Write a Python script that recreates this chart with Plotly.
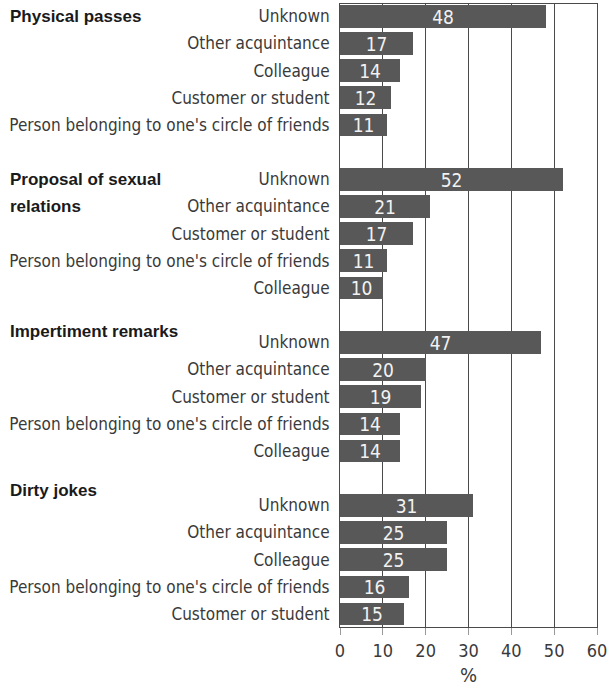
import plotly.graph_objects as go

groups = ["Physical passes", "Proposal of sexual<br>relations", "Impertiment remarks", "Dirty jokes"]
cats_physical = ["Unknown", "Other acquintance", "Colleague", "Customer or student",
                 "Person belonging to one's circle of friends"]
vals_physical = [48, 17, 14, 12, 11]
cats_proposal = ["Unknown", "Other acquintance", "Customer or student",
                 "Person belonging to one's circle of friends", "Colleague"]
vals_proposal = [52, 21, 17, 11, 10]
cats_remarks = ["Unknown", "Other acquintance", "Customer or student",
                "Person belonging to one's circle of friends", "Colleague"]
vals_remarks = [47, 20, 19, 14, 14]
cats_jokes = ["Unknown", "Other acquintance", "Colleague",
              "Person belonging to one's circle of friends", "Customer or student"]
vals_jokes = [31, 25, 25, 16, 15]
x_ticks = [0, 10, 20, 30, 40, 50, 60]
x_title = "%"

all_cats = [cats_physical, cats_proposal, cats_remarks, cats_jokes]
all_vals = [vals_physical, vals_proposal, vals_remarks, vals_jokes]

pos, labels, values = [], [], []
for gi, (cs, vs) in enumerate(zip(all_cats, all_vals)):
    for i, (c, v) in enumerate(zip(cs, vs)):
        pos.append(gi * 6 + i)
        labels.append(c)
        values.append(v)

NARROW = "DejaVu Sans Condensed, Roboto, sans-serif"

fig = go.Figure(go.Bar(
    x=values, y=pos, orientation="h",
    marker=dict(color="#585858", line=dict(width=0)),
    width=0.83,
    text=[str(v) for v in values],
    textposition="inside", insidetextanchor="middle", textangle=0,
    textfont=dict(family=NARROW, size=19, color="#f2f2f2"),
    constraintext="none",
    hoverinfo="skip",
))

# group titles (positions in slot units of the y axis)
title_slots = [[0], [6, 7], [11.62], [17.45]]
title_lines = [["Physical passes"], ["Proposal of sexual", "relations"],
               ["Impertiment remarks"], ["Dirty jokes"]]
for slots, lines in zip(title_slots, title_lines):
    for s, t in zip(slots, lines):
        fig.add_annotation(text="<b>" + t + "</b>", x=-1.29, xref="paper", xanchor="left",
                           y=s, yref="y", yanchor="middle", showarrow=False,
                           font=dict(family="Liberation Sans, Arial, sans-serif", size=17, color="#1a1a1a"))

fig.update_layout(
    width=608, height=692,
    margin=dict(l=340, r=11, t=4, b=65, autoexpand=False),
    paper_bgcolor="white", plot_bgcolor="white",
    showlegend=False,
    bargap=0,
)
fig.update_xaxes(
    range=[0, 60], tickvals=x_ticks, ticktext=[str(t) for t in x_ticks],
    showgrid=True, gridcolor="#4a4a4a", gridwidth=1,
    zeroline=False, showline=True, linecolor="#4a4a4a", linewidth=1, mirror=True,
    ticks="outside", ticklen=7, tickcolor="#999999",
    tickfont=dict(family=NARROW, size=18, color="#3a3a3a"),
    ticklabeloverflow="allow",
    title=dict(text=x_title, font=dict(family=NARROW, size=20, color="#3a3a3a"), standoff=8),
    automargin=False,
)
fig.update_yaxes(
    range=[22.48, -0.45], tickvals=pos, ticktext=labels,
    showgrid=False, zeroline=False, showline=True, linecolor="#4a4a4a", linewidth=1, mirror=True,
    ticks="", ticklabelstandoff=6,
    tickfont=dict(family=NARROW, size=17, color="#3a3a3a"),
    automargin=False,
)

fig.write_html("out.html", config={"displayModeBar": False},
               post_script="document.body.style.margin='0';document.body.style.overflow='hidden';")
